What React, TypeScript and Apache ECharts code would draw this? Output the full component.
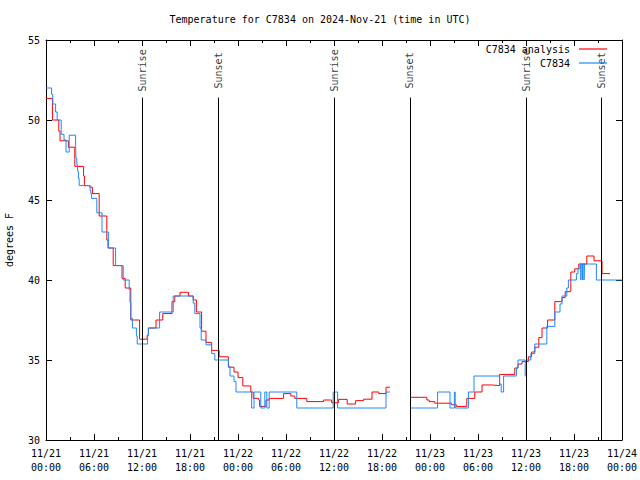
import React, { useEffect, useRef } from "react";
import * as echarts from "echarts";

const titleText = "Temperature for C7834 on 2024-Nov-21 (time in UTC)";
const yAxisName = "degrees F";
const seriesNames = ["C7834 analysis", "C7834"];

// x positions are hours since 2024-11-21 00:00 UTC
const xTickLabels = [
  "11/21\n00:00", "11/21\n06:00", "11/21\n12:00", "11/21\n18:00",
  "11/22\n00:00", "11/22\n06:00", "11/22\n12:00", "11/22\n18:00",
  "11/23\n00:00", "11/23\n06:00", "11/23\n12:00", "11/23\n18:00",
  "11/24\n00:00",
];

const sunHours = [12.0, 21.5, 36.02, 45.48, 60.03, 69.45];
const sunNames = ["Sunrise", "Sunset", "Sunrise", "Sunset", "Sunrise", "Sunset"];

const analysisHours = [
  0, 0.8, 1.6, 1.75, 2.8, 3.6, 4.7, 4.8, 5.5, 5.8,
  6.65, 7.6, 7.75, 8.4, 9.5, 9.9, 10.6, 11.7, 12.65, 12.8, 13.75, 14.6, 15.75, 16.1, 16.75, 17.8, 18.4, 18.8, 19.45, 20.0, 20.7, 21.65,
  22.8, 23.5, 24.0, 24.6, 25.6, 25.9, 26.6, 26.7, 27.5, 27.9, 29.7, 30.6, 31.1, 32.6, 34.7, 35.7, 36.55, 37.65, 38.7, 39.7, 40.75, 41.6, 42.5, 42.6,
  43.0,
  45.5, 47.6, 47.9, 48.6, 50.7, 51.3, 52.6, 53.6, 54.5, 55.7, 56.7, 58.6, 59.0, 59.5, 60.3, 60.7, 61.1, 61.6, 62.0, 62.7, 63.6, 64.5, 64.9, 65.5, 65.6, 66.1, 66.6, 67.6, 68.5, 69.5, 70.5,
];
const analysisTemps = [
  51.35, 50.0, 49.3, 48.7, 48.3, 47.1, 46.5, 45.9, 45.8, 45.4,
  44.0, 42.5, 42.0, 40.9, 40.1, 39.5, 37.5, 36.3, 36.55, 37.0, 37.5, 37.9, 38.65, 39.0, 39.23, 39.0, 38.75, 38.0, 36.8, 36.1, 35.6, 35.2,
  34.55, 34.25, 33.9, 33.38, 33.0, 32.6, 32.5, 32.1, 32.5, 32.6, 32.9, 32.75, 32.6, 32.4, 32.5, 32.33, 32.54, 32.25, 32.46, 32.55, 33.0, 32.9, 33.3, 33.3,
  null,
  32.67, 32.5, 32.4, 32.3, 32.2, 32.1, 32.6, 33.0, 33.44, 33.4, 34.1, 34.5, 34.75, 34.9, 35.2, 35.5, 35.8, 36.4, 37.0, 37.5, 38.65, 38.9, 39.27, 39.3, 40.5, 40.7, 41.0, 41.5, 41.2, 40.4, 40.4,
];

const obsHours = [
  0, 0.7, 0.85, 1.2, 1.4, 1.9, 2.25, 2.5, 2.9, 3.7, 3.75, 3.85, 3.95, 4.05, 4.15, 5.5, 5.6, 5.7,
  6.35, 7.0, 7.8, 8.7, 9.65, 10.4, 10.5, 10.6, 10.8, 11.3, 11.4, 12.7, 12.8, 14.2, 15.9, 18.4, 18.6, 19.25, 19.4, 20.0, 20.7, 21.1,
  22.8, 23.0, 23.5, 23.75, 25.7, 26.0, 26.85, 27.35, 27.6, 27.9, 31.35, 35.9, 36.45, 42.5, 42.6,
  43.0,
  45.5, 48.95, 50.5, 51.05, 51.15, 52.8, 53.5, 56.7, 56.9, 57.2, 58.8, 59.0, 59.9, 60.05, 60.6, 61.1, 62.6, 63.6, 64.25, 64.5, 65.1, 65.3,
  66.3, 66.5, 66.75, 66.85, 66.9, 67.05, 67.1, 67.25, 67.3, 68.8, 72.0,
];
const obsTemps = [
  52.0, 51.6, 51.0, 50.5, 50.0, 49.1, 48.75, 48.0, 49.05, 48.4, 47.6, 47.2, 46.8, 46.35, 45.9, 45.6, 45.4, 45.1,
  44.2, 43.0, 42.0, 40.9, 40.0, 39.4, 38.6, 37.6, 37.0, 36.5, 36.0, 36.55, 37.0, 38.0, 39.0, 38.55, 37.9, 37.0, 36.25, 35.95, 35.4, 35.0,
  34.6, 34.0, 33.65, 33.0, 32.0, 33.0, 32.0, 33.0, 32.0, 33.0, 32.0, 33.0, 32.0, 33.0, 33.0,
  null,
  32.0, 33.0, 32.0, 33.0, 32.0, 33.0, 34.0, 33.5, 33.0, 34.0, 34.5, 35.0, 34.0, 35.0, 35.4, 36.0, 37.1, 38.0, 38.5, 39.0, 39.5, 40.0,
  40.4, 40.7, 41.0, 40.0, 41.0, 40.0, 41.0, 40.0, 41.0, 40.0, 40.0,
];

const MONO = "DejaVu Sans Mono";

function pairs(hours: number[], temps: (number | null)[]) {
  return hours.map((h, i) => [h, temps[i] === null ? "-" : temps[i]]);
}

export default function App() {
  const ref = useRef<HTMLDivElement>(null);

  useEffect(() => {
    if (!ref.current) return;
    const chart = echarts.init(ref.current, null, { renderer: "svg" });
    const baseX = {
      type: "value",
      min: 0,
      max: 72,
      interval: 6,
      axisLine: { show: true, onZero: false, lineStyle: { color: "#000", width: 1 } },
      axisTick: { show: true, inside: true, length: 6, lineStyle: { color: "#000" } },
      minorTick: { show: true, splitNumber: 2, length: 3, lineStyle: { color: "#000" } },
      splitLine: { show: false },
      minorSplitLine: { show: false },
    };
    const baseY = {
      type: "value",
      min: 30,
      max: 55,
      interval: 5,
      axisLine: { show: true, onZero: false, lineStyle: { color: "#000", width: 1 } },
      axisTick: { show: true, inside: true, length: 6, lineStyle: { color: "#000" } },
      splitLine: { show: false },
    };
    chart.setOption({
      animation: false,
      backgroundColor: "#fff",
      title: {
        text: titleText,
        left: "center",
        top: 9,
        textStyle: { fontFamily: MONO, fontSize: 10, fontWeight: "normal", color: "#000" },
      },
      legend: {
        data: seriesNames,
        orient: "vertical",
        right: 28,
        top: 38,
        align: "right",
        icon: "rect",
        itemWidth: 28,
        itemHeight: 1.2,
        itemGap: 2,
        textStyle: { fontFamily: MONO, fontSize: 10, color: "#000", padding: [0, 4, 0, 0], lineHeight: 12 },
      },
      grid: { left: 46, right: 18, top: 40, bottom: 40, containLabel: false, outerBoundsMode: "none" },
      xAxis: [
        {
          ...baseX,
          position: "bottom",
          axisLabel: {
            show: true,
            margin: 6,
            color: "#000",
            fontFamily: MONO,
            fontSize: 10,
            lineHeight: 14,
            formatter: (v: number) => xTickLabels[Math.round(v / 6)] ?? "",
          },
        },
        { ...baseX, position: "top", axisLabel: { show: false } },
      ],
      yAxis: [
        {
          ...baseY,
          position: "left",
          name: yAxisName,
          nameLocation: "middle",
          nameGap: 32,
          nameTextStyle: { fontFamily: MONO, fontSize: 10, color: "#000" },
          axisLabel: { show: true, margin: 6, color: "#000", fontFamily: MONO, fontSize: 10 },
        },
        { ...baseY, position: "right", axisLabel: { show: false } },
      ],
      series: [
        {
          name: seriesNames[0],
          type: "line",
          step: "end",
          symbol: "none",
          showSymbol: false,
          data: pairs(analysisHours, analysisTemps),
          lineStyle: { color: "#ff0000", width: 1 },
          itemStyle: { color: "#ff0000" },
          connectNulls: false,
        },
        {
          name: seriesNames[1],
          type: "line",
          step: "end",
          symbol: "none",
          showSymbol: false,
          data: pairs(obsHours, obsTemps),
          lineStyle: { color: "#1e88ff", width: 1 },
          itemStyle: { color: "#1e88ff" },
          connectNulls: false,
        },
        {
          name: "sun",
          type: "scatter",
          symbolSize: 0,
          silent: true,
          data: sunHours.map((h, i) => [h, 53.1, sunNames[i]]),
          label: {
            show: true,
            position: "inside",
            rotate: 90,
            formatter: (p: any) => p.value[2],
            color: "#000",
            fontFamily: MONO,
            fontSize: 10,
          },
          markLine: {
            silent: true,
            symbol: "none",
            animation: false,
            label: { show: false },
            lineStyle: { color: "#000", width: 1, type: "solid" },
            data: sunHours.map((h) => [{ coord: [h, 30] }, { coord: [h, 51.4] }]),
          },
        },
      ],
    });
    return () => chart.dispose();
  }, []);

  return (
    <div
      ref={ref}
      style={{ position: "fixed", left: 0, top: 0, width: 640, height: 480, background: "#fff" }}
    />
  );
}
